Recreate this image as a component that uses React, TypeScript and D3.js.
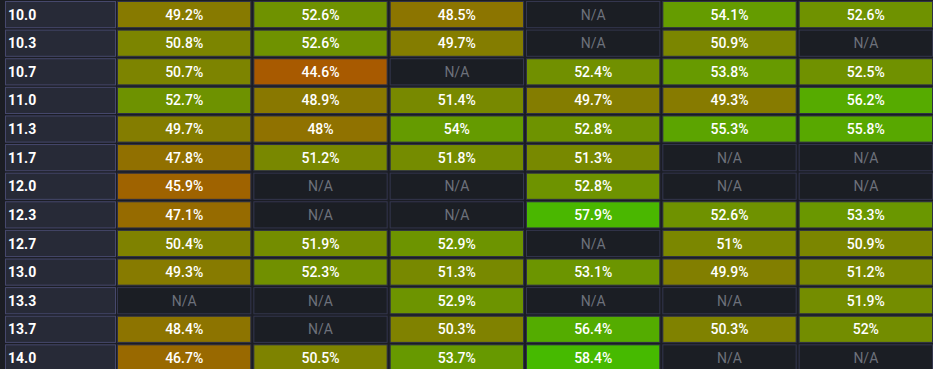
import React from "react";
import * as d3 from "d3";

const rowLabels = ["10.0", "10.3", "10.7", "11.0", "11.3", "11.7", "12.0", "12.3", "12.7", "13.0", "13.3", "13.7", "14.0"];
const columnKeys = ["c1", "c2", "c3", "c4", "c5", "c6"];

// null = N/A ; values as displayed (strings keep the printed format)
const col1 = ["49.2", "50.8", "50.7", "52.7", "49.7", "47.8", "45.9", "47.1", "50.4", "49.3", null, "48.4", "46.7"];
const col2 = ["52.6", "52.6", "44.6", "48.9", "48", "51.2", null, null, "51.9", "52.3", null, null, "50.5"];
const col3 = ["48.5", "49.7", null, "51.4", "54", "51.8", null, null, "52.9", "51.3", "52.9", "50.3", "53.7"];
const col4 = [null, null, "52.4", "49.7", "52.8", "51.3", "52.8", "57.9", null, "53.1", null, "56.4", "58.4"];
const col5 = ["54.1", "50.9", "53.8", "49.3", "55.3", null, null, "52.6", "51", "49.9", null, "50.3", null];
const col6 = ["52.6", null, "52.5", "56.2", "55.8", null, null, "53.3", "50.9", "51.2", "51.9", "52", null];

const columns = [col1, col2, col3, col4, col5, col6];

const W = 933;
const H = 369;

export default function App() {
  const all = columns.flat().filter((v) => v !== null).map((v) => +(v as string));
  const color = d3
    .scaleLinear<string>()
    .domain([d3.min(all) as number, d3.max(all) as number])
    .range(["#a85a00", "#46ba00"])
    .interpolate(d3.interpolateRgb);

  const y = d3.scaleBand().domain(rowLabels).range([1, 1 + rowLabels.length * 28.5]).paddingInner(0.05).paddingOuter(0);
  const x = d3.scaleBand().domain(columnKeys).range([117, 117 + 6 * 136]).paddingInner(2 / 136).paddingOuter(0);

  const labelX0 = 5;
  const labelX1 = 116;

  return (
    <div style={{ position: "absolute", left: 0, top: 0 }}>
      <svg width={W} height={H} style={{ display: "block", background: "#1b1d24" }}>
        <rect x={0} y={0} width={W} height={H} fill="#1b1d24" />
        {rowLabels.map((r, i) => {
          const yy = y(r) as number;
          const h = y.bandwidth();
          return (
            <g key={r}>
              <rect x={labelX0 + 0.5} y={yy + 0.5} width={labelX1 - labelX0 - 1} height={h - 1} fill="#272a37" stroke="#46486c" strokeWidth={1} />
              <text x={labelX0 + 3} y={yy + h / 2} dy="0.36em" fill="#ffffff" fontFamily="Roboto, 'Noto Sans', sans-serif" fontWeight={700} fontSize={14}>
                {r}
              </text>
              {columns.map((col, j) => {
                const v = col[i];
                const xx = x(columnKeys[j]) as number;
                const w = x.bandwidth();
                const na = v === null;
                return (
                  <g key={j}>
                    <rect
                      x={xx + 0.5}
                      y={yy + 0.5}
                      width={w - 1}
                      height={h - 1}
                      fill={na ? "#1b1e24" : color(+(v as string))}
                      stroke={na ? "#34364e" : "#2e3046"}
                      strokeWidth={1}
                    />
                    <text
                      x={xx + w / 2}
                      y={yy + h / 2}
                      dy="0.36em"
                      textAnchor="middle"
                      fill={na ? "#6d717b" : "#ffffff"}
                      fontFamily="Roboto, 'Noto Sans', sans-serif"
                      fontWeight={na ? 400 : 500}
                      fontSize={14}
                    >
                      {na ? "N/A" : `${v}%`}
                    </text>
                  </g>
                );
              })}
            </g>
          );
        })}
      </svg>
    </div>
  );
}
